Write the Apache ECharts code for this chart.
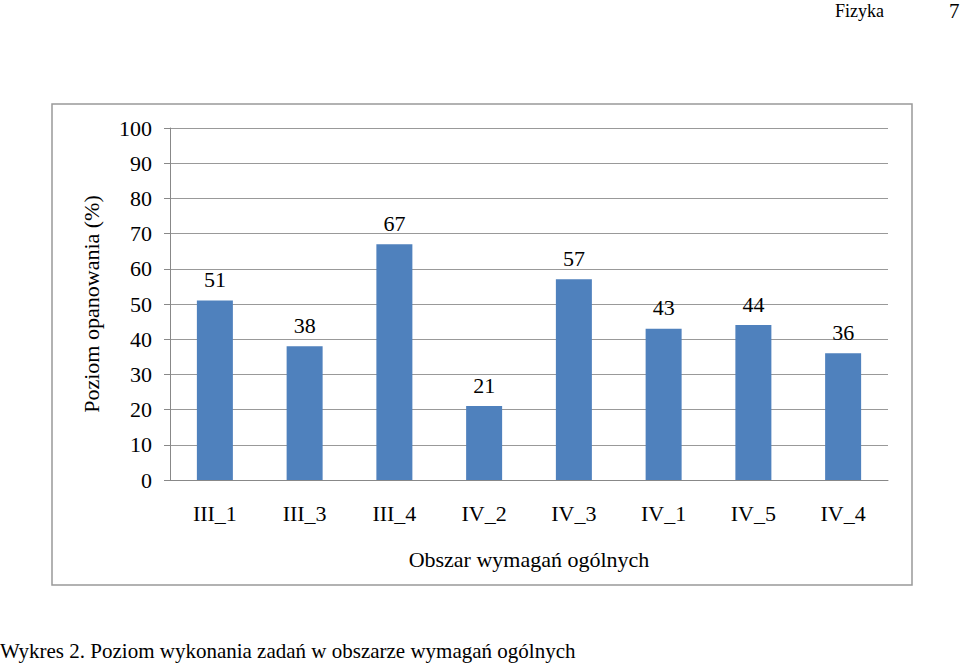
<!DOCTYPE html>
<html><head><meta charset="utf-8">
<script src="https://cdn.jsdelivr.net/npm/echarts@6/dist/echarts.min.js"></script>
<style>html,body{margin:0;padding:0;background:#fff}#c{width:960px;height:667px}</style>
</head><body><div id="c"></div>
<script>
const categories = ['III_1', 'III_3', 'III_4', 'IV_2', 'IV_3', 'IV_1', 'IV_5', 'IV_4'];
const values = [51, 38, 67, 21, 57, 43, 44, 36];
const font = '"Liberation Serif", "DejaVu Serif", serif';

const chart = echarts.init(document.getElementById('c'), null, {renderer: 'svg'});
chart.setOption({
	textStyle: {fontFamily: font},
	graphic: [
		{type: 'rect', shape: {x: 52, y: 104, width: 860, height: 481}, style: {fill: 'none', stroke: '#999', lineWidth: 1.5}},
		{type: 'text', left: 835, top: 2, style: {text: 'Fizyka', font: '18px ' + font, fill: '#000'}},
		{type: 'text', left: 949, top: 0, style: {text: '7', font: '21px ' + font, fill: '#000'}},
		{type: 'text', left: 0, top: 640, style: {text: 'Wykres 2. Poziom wykonania zadań w obszarze wymagań ogólnych', font: '21px ' + font, fill: '#000'}}
	],
	grid: {left: 170, right: 72, top: 128, bottom: 187},
	xAxis: {
		type: 'category', data: categories,
		name: 'Obszar wymagań ogólnych', nameLocation: 'middle', nameGap: 68,
		nameTextStyle: {fontSize: 22, color: '#000', fontFamily: font},
		axisLine: {lineStyle: {color: '#888'}}, axisTick: {show: false},
		axisLabel: {fontSize: 22, color: '#000', margin: 22}
	},
	yAxis: {
		type: 'value', min: 0, max: 100, interval: 10,
		name: 'Poziom opanowania (%)', nameLocation: 'middle', nameGap: 68,
		nameTextStyle: {fontSize: 22, color: '#000', fontFamily: font},
		axisLine: {show: true, lineStyle: {color: '#888'}},
		axisTick: {show: true, length: 6, lineStyle: {color: '#888'}},
		axisLabel: {fontSize: 22, color: '#000', margin: 18},
		splitLine: {lineStyle: {color: '#999'}}
	},
	series: [{
		type: 'bar', data: values, barWidth: 36,
		itemStyle: {color: '#4f81bd'},
		label: {show: true, position: 'top', distance: 10, fontSize: 22, color: '#000', fontFamily: font}
	}]
});
</script></body></html>
